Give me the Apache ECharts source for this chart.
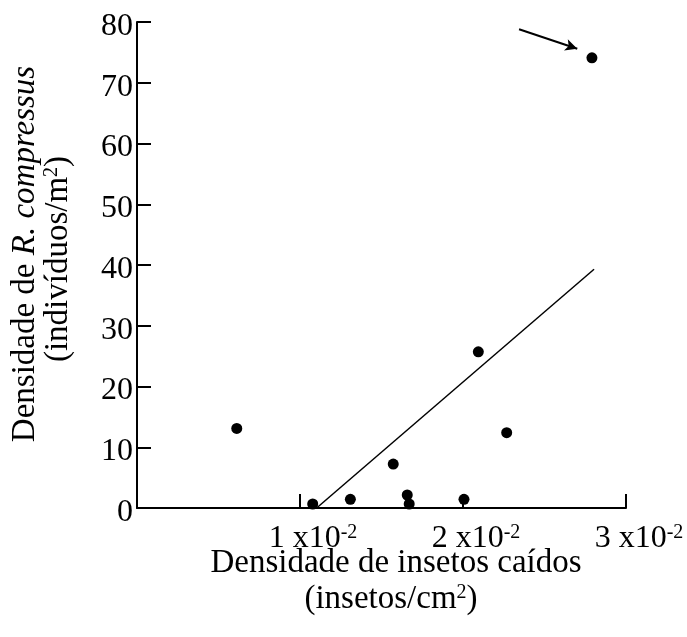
<!DOCTYPE html>
<html>
<head>
<meta charset="utf-8">
<script src="https://cdn.jsdelivr.net/npm/echarts@6/dist/echarts.min.js"></script>
<style>
html,body{margin:0;padding:0;background:#fff;}
#chart{width:687px;height:637px;}
</style>
</head>
<body>
<div id="chart"></div>
<script>
// Densidade de insetos caídos (insetos/cm2)
const insectDensity = [0.00612, 0.01078, 0.01309, 0.01572, 0.01658, 0.01670, 0.02006, 0.02094, 0.02268, 0.02791];
// Densidade de R. compressus (indivíduos/m2)
const bugDensity = [13.1, 0.66, 1.43, 7.24, 2.14, 0.66, 1.43, 25.7, 12.4, 74.1];
// Regression line end points
const fitX = [0.01102, 0.02804];
const fitY = [0, 39.3];
// Arrow pointing to outlier
const arrowX = [0.02344, 0.02701];
const arrowY = [78.8, 75.6];
// Tick label mantissas for x axis (x10^-2)
const xTickMantissa = ['', '1', '2', '3'];
const yTickLabels = ['0', '10', '20', '30', '40', '50', '60', '70', '80'];

const FONT = '"Liberation Serif", "Times New Roman", serif';

const chart = echarts.init(document.getElementById('chart'), null, {renderer: 'canvas'});

const scatterData = insectDensity.map((x, i) => [x, bugDensity[i]]);
const fitData = fitX.map((x, i) => [x, fitY[i]]);

chart.setOption({
  animation: false,
  backgroundColor: '#fff',
  grid: {left: 137, right: 61, top: 22, bottom: 129, containLabel: false},
  xAxis: {
    type: 'value', min: 0, max: 0.03, interval: 0.01,
    axisLine: {show: true, onZero: false, lineStyle: {color: '#000', width: 2}},
    axisTick: {show: true, inside: true, length: 14, lineStyle: {color: '#000', width: 2}},
    splitLine: {show: false},
    axisLabel: {
      margin: 15,
      padding: [0, 0, 0, 26],
      formatter: function (v) {
        const k = Math.round(v * 100);
        const m = xTickMantissa[k];
        if (!m) return '';
        return '{a|' + m + ' x10}{s|-2}';
      },
      rich: {
        a: {fontFamily: FONT, fontSize: 32, color: '#000', lineHeight: 32},
        s: {fontFamily: FONT, fontSize: 20, color: '#000', lineHeight: 20, verticalAlign: 'top'}
      }
    }
  },
  yAxis: {
    type: 'value', min: 0, max: 80, interval: 10,
    axisLine: {show: true, onZero: false, lineStyle: {color: '#000', width: 2}},
    axisTick: {show: true, inside: true, length: 14, lineStyle: {color: '#000', width: 2}},
    splitLine: {show: false},
    axisLabel: {
      margin: 4,
      formatter: function (v) { return '{v|' + yTickLabels[Math.round(v / 10)] + '}'; },
      rich: {
        v: {fontFamily: FONT, fontSize: 32, color: '#000', lineHeight: 32, padding: [9, 0, 0, 0]}
      }
    }
  },
  series: [
    {
      type: 'line',
      data: fitData,
      showSymbol: false,
      symbol: 'none',
      lineStyle: {color: '#000', width: 1.5},
      silent: true,
      z: 3,
      markLine: {
        silent: true,
        symbol: ['none', 'arrow'],
        symbolSize: [9, 12],
        label: {show: false},
        lineStyle: {color: '#000', width: 2, type: 'solid'},
        data: [[{coord: [arrowX[0], arrowY[0]]}, {coord: [arrowX[1], arrowY[1]]}]]
      }
    },
    {
      type: 'scatter',
      data: scatterData,
      symbol: 'circle',
      symbolSize: 11,
      clip: false,
      itemStyle: {color: '#000', opacity: 1},
      z: 4
    }
  ],
  graphic: [
    {
      type: 'text', x: 25, y: 254, rotation: Math.PI / 2,
      style: {
        text: '{n|Densidade de }{i|R.}{n| }{i|compressus}',
        align: 'center', verticalAlign: 'middle',
        rich: {
          n: {fontFamily: FONT, fontSize: 33, fill: '#000'},
          i: {fontFamily: FONT, fontSize: 33, fontStyle: 'italic', fill: '#000'}
        }
      }
    },
    {
      type: 'text', x: 58, y: 259, rotation: Math.PI / 2,
      style: {
        text: '{n|(indivíduos/m}{s|2}{n|)}',
        align: 'center', verticalAlign: 'middle',
        rich: {
          n: {fontFamily: FONT, fontSize: 33, fill: '#000', lineHeight: 33},
          s: {fontFamily: FONT, fontSize: 20, fill: '#000', lineHeight: 20, verticalAlign: 'top'}
        }
      }
    },
    {
      type: 'text', x: 396, y: 563,
      style: {
        text: 'Densidade de insetos caídos',
        align: 'center', verticalAlign: 'middle',
        font: '33px ' + FONT, fill: '#000'
      }
    },
    {
      type: 'text', x: 391, y: 599,
      style: {
        text: '{n|(insetos/cm}{s|2}{n|)}',
        align: 'center', verticalAlign: 'middle',
        rich: {
          n: {fontFamily: FONT, fontSize: 33, fill: '#000', lineHeight: 33},
          s: {fontFamily: FONT, fontSize: 20, fill: '#000', lineHeight: 20, verticalAlign: 'top'}
        }
      }
    }
  ]
});
</script>
</body>
</html>
